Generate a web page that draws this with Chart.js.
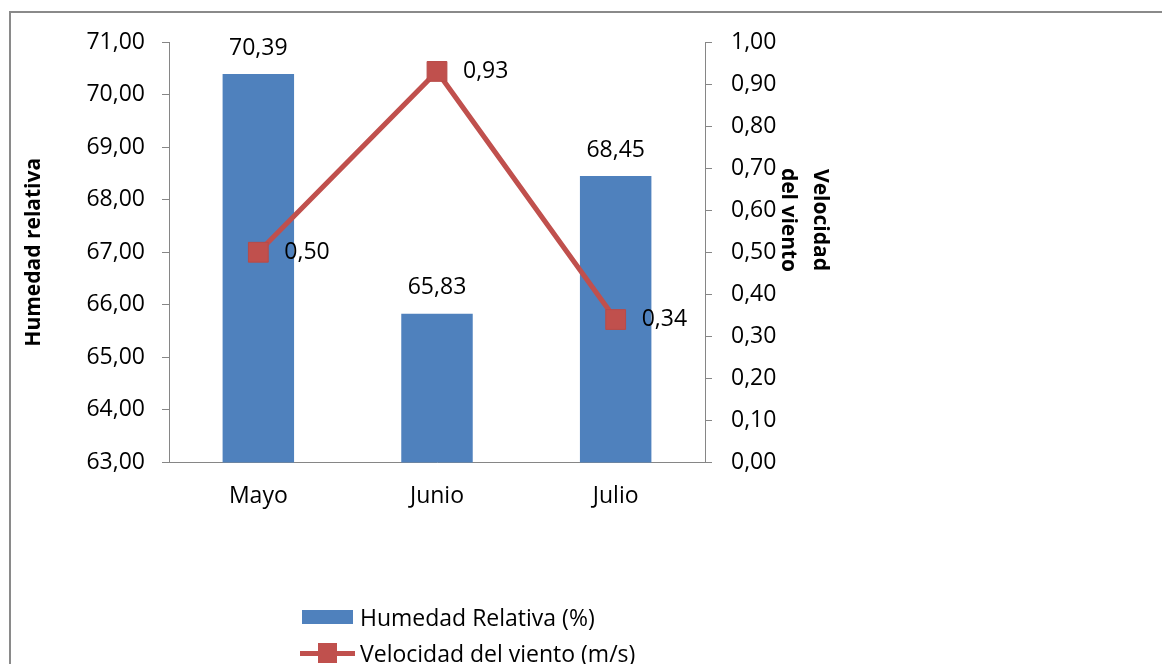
<!DOCTYPE html>
<html>
<head>
<meta charset="utf-8">
<script src="https://cdn.jsdelivr.net/npm/chart.js@4/dist/chart.umd.min.js"></script>
<style>
  html, body { margin: 0; padding: 0; background: #fff; }
  #wrap { position: relative; width: 1162px; height: 664px; overflow: hidden; font-family: 'Open Sans', sans-serif; }
  #frame { position: absolute; left: 9px; top: 11px; width: 1300px; height: 800px;
           border-top: 2px solid #8a8a8a; border-left: 2px solid #8a8a8a; }
  #chart { position: absolute; left: 0; top: 0; }
  #legend { position: absolute; left: 300px; top: 599px; font-size: 23px; color: #000; }
  #legend .row { display: flex; align-items: center; height: 36px; }
  #legend .key { position: relative; width: 55px; height: 20px; margin-right: 5px; }
  #legend .txt { line-height: 36px; white-space: nowrap; }
</style>
</head>
<body>
<div id="wrap">
  <div id="frame"></div>
  <canvas id="chart" width="1162" height="664"></canvas>
  <div id="legend"></div>
</div>
<script>
// values
const categories = ['Mayo', 'Junio', 'Julio'];
const humedad = [70.39, 65.83, 68.45];
const viento = [0.50, 0.93, 0.34];
const humedadRange = [63, 71];
const vientoRange = [0, 1];
const seriesNames = ['Humedad Relativa (%)', 'Velocidad del viento (m/s)'];
const axisTitles = ['Humedad relativa', ['Velocidad', 'del viento']];

const BLUE = '#4F81BD';
const RED = '#C0504D';
const AXIS = '#868686';
const FONT = "'Open Sans', sans-serif";
const SIZE = 23;

const comma = v => Number(v).toFixed(2).replace('.', ',');

// value labels and axis titles, placed from the library's own elements
const labelsPlugin = {
    id: 'labels',
    afterDatasetsDraw(chart) {
        const ctx = chart.ctx;
        ctx.save();
        ctx.fillStyle = '#000';
        ctx.font = SIZE + 'px ' + FONT;
        chart.getDatasetMeta(0).data.forEach((el, i) => {
            ctx.textAlign = 'center';
            ctx.textBaseline = 'middle';
            ctx.fillText(comma(humedad[i]), el.x, el.y - 26);
        });
        chart.getDatasetMeta(1).data.forEach((el, i) => {
            ctx.textAlign = 'left';
            ctx.textBaseline = 'middle';
            ctx.fillText(comma(viento[i]), el.x + 26, el.y);
        });
        ctx.restore();
    },
    afterDraw(chart) {
        const ctx = chart.ctx;
        const area = chart.chartArea;
        const midY = (area.top + area.bottom) / 2;
        ctx.save();
        ctx.fillStyle = '#000';
        ctx.font = 'bold 21px ' + FONT;
        ctx.textAlign = 'center';
        ctx.textBaseline = 'middle';
        // left title
        ctx.save();
        ctx.translate(34, midY);
        ctx.rotate(-Math.PI / 2);
        ctx.fillText(axisTitles[0], 0, 0);
        ctx.restore();
        // right title, two lines reading downwards
        ctx.save();
        ctx.translate(area.right + 99, area.top + 178);
        ctx.rotate(Math.PI / 2);
        ctx.fillText(axisTitles[1][0], 0, -16);
        ctx.fillText(axisTitles[1][1], 0, 16);
        ctx.restore();
        ctx.restore();
    }
};

const chart = new Chart(document.getElementById('chart'), {
    data: {
        labels: categories,
        datasets: [{
            type: 'bar',
            label: seriesNames[0],
            data: humedad,
            yAxisID: 'y',
            order: 1,
            backgroundColor: BLUE,
            barPercentage: 0.4,
            categoryPercentage: 1
        }, {
            type: 'line',
            label: seriesNames[1],
            data: viento,
            yAxisID: 'y1',
            order: 0,
            borderColor: RED,
            borderWidth: 5,
            tension: 0,
            pointStyle: 'rect',
            pointRadius: 14,
            pointHoverRadius: 14,
            pointBackgroundColor: RED,
            pointBorderColor: '#B84B48',
            pointBorderWidth: 1
        }]
    },
    options: {
        responsive: false,
        animation: false,
        layout: { padding: { top: 42, left: 0, right: 0, bottom: 0 } },
        plugins: {
            legend: { display: false },
            tooltip: { enabled: false }
        },
        scales: {
            x: {
                grid: { display: false, drawTicks: false },
                border: { display: true, color: AXIS, width: 1 },
                ticks: { color: '#000', font: { family: FONT, size: SIZE }, padding: 20 },
                afterFit: s => { s.height = 201.5; }
            },
            y: {
                position: 'left',
                min: humedadRange[0],
                max: humedadRange[1],
                grid: { drawOnChartArea: false, drawTicks: true, tickLength: 7, color: AXIS },
                border: { display: true, color: AXIS, width: 1 },
                ticks: {
                    stepSize: 1, color: '#000', padding: 17,
                    font: { family: FONT, size: SIZE },
                    callback: v => comma(v)
                },
                afterFit: s => { s.width = 169; }
            },
            y1: {
                position: 'right',
                min: vientoRange[0],
                max: vientoRange[1],
                grid: { drawOnChartArea: false, drawTicks: true, tickLength: 7, color: AXIS },
                border: { display: true, color: AXIS, width: 1 },
                ticks: {
                    stepSize: 0.1, color: '#000', padding: 19,
                    font: { family: FONT, size: SIZE },
                    callback: v => comma(v)
                },
                afterFit: s => { s.width = 1162 - 705; }
            }
        }
    },
    plugins: [labelsPlugin]
});

// legend rows, stacked like the original
const legend = document.getElementById('legend');
chart.data.datasets.forEach(ds => {
    const row = document.createElement('div');
    row.className = 'row';
    const key = document.createElement('div');
    key.className = 'key';
    if (ds.type === 'bar') {
        key.innerHTML = '<div style="position:absolute;left:2px;top:3px;width:51px;height:14px;background:' + ds.backgroundColor + '"></div>';
    } else {
        key.innerHTML = '<div style="position:absolute;left:0;top:8px;width:55px;height:5px;background:' + ds.borderColor + '"></div>' +
            '<div style="position:absolute;left:18px;top:0;width:19px;height:20px;background:' + ds.pointBackgroundColor + '"></div>';
    }
    const txt = document.createElement('span');
    txt.className = 'txt';
    txt.textContent = ds.label;
    row.appendChild(key);
    row.appendChild(txt);
    legend.appendChild(row);
});
</script>
</body>
</html>
